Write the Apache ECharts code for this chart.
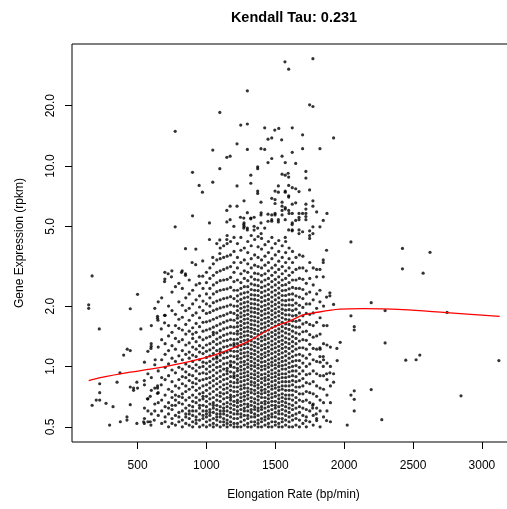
<!DOCTYPE html>
<html>
<head>
<meta charset="utf-8">
<script src="https://cdn.jsdelivr.net/npm/echarts@6/dist/echarts.min.js"></script>
<style>
  html, body { margin: 0; padding: 0; background: #fff; }
  #chart { width: 507px; height: 509px; }
</style>
</head>
<body>
<div id="chart"></div>
<script>
// Elongation rate (bp/min) of each column of genes in the main cloud
const rateColumns = [550, 575, 600, 625, 650, 675, 700, 725, 750, 775, 800,
  825, 850, 875, 900, 925, 950, 975, 1000, 1025, 1050, 1075, 1100, 1125, 1150, 1175, 1200,
  1225, 1250, 1275, 1300, 1325, 1350, 1375, 1400, 1425, 1450, 1475, 1500, 1525, 1550, 1575, 1600, 1625, 1650,
  1675, 1700, 1725, 1750, 1775, 1800, 1825, 1850, 1875, 1900];

// Gene expression (rpkm) of the genes in each column above
const exprColumns = [
  [.55, .62, .81, 1.05],
  [.53, .6, .92, .69],
  [.58, .76, .88, 1.6],
  [.65, .78, 1.02, 1.95, .6],
  [.57, .74, .95, 1.25, .66, 2.1],
  [.52, .6, .68, .88, 1.08, 1.36, 2.2],
  [.53, .56, .63, .72, .86, .99, 1.15, 1.3, 1.8],
  [.5, .58, .66, .77, .9, 1.03, 1.2, 1.42, 1.6, 2.0, .62],
  [.52, .55, .61, .7, .75, .84, .96, 1.1, 1.27, 1.48, 1.9, 2.35, .64],
  [.51, .57, .64, .72, .8, .93, 1.06, 1.22, 1.38, 1.6, 1.82, 2.5, .68],
  [.53, .59, .66, .71, .78, .86, .99, 1.13, 1.33, 1.55, 1.72, 2.1, 2.6, .56],
  [.5, .54, .6, .65, .73, .82, .89, .97, 1.08, 1.2, 1.36, 1.52, 1.76, 2.02, 2.45, .7],
  [.52, .56, .62, .68, .75, .8, .88, .94, 1.03, 1.15, 1.28, 1.45, 1.62, 1.9, 2.2, .58],
  [.51, .55, .58, .64, .7, .77, .85, .91, 1.0, 1.1, 1.18, 1.31, 1.5, 1.7, 1.95, 2.3, 2.7, .6],
  [.5, .53, .57, .63, .67, .72, .79, .83, .9, .98, 1.06, 1.14, 1.25, 1.38, 1.56, 1.8, 2.05, 2.4, .6, 1.45],
  [.52, .56, .6, .66, .7, .76, .82, .87, .95, 1.02, 1.12, 1.22, 1.33, 1.48, 1.64, 1.85, 2.15, 2.55, .54],
  [.5, .54, .58, .62, .68, .73, .78, .85, .92, .99, 1.08, 1.18, 1.27, 1.4, 1.58, 1.75, 1.98, 2.25, 2.6, .64],
  [.51, .55, .6, .64, .69, .74, .8, .86, .93, 1.0, 1.05, 1.16, 1.24, 1.36, 1.5, 1.66, 1.9, 2.12, 2.45, .57, .71],
  [.5, .53, .56, .6, .63, .67, .71, .76, .81, .87, .92, .97, 1.04, 1.11, 1.19, 1.28, 1.39, 1.52, 1.67, 1.84, 2.05, 2.3, 2.62, 2.95, .58],
  [.51, .54, .57, .61, .65, .69, .73, .78, .83, .88, .94, 1.0, 1.06, 1.13, 1.21, 1.3, 1.41, 1.54, 1.69, 1.86, 2.0, 2.2, 2.45, 2.75, 3.1, .59],
  [.5, .52, .55, .59, .62, .66, .7, .75, .8, .85, .9, .96, 1.02, 1.09, 1.16, 1.24, 1.33, 1.44, 1.57, 1.72, 1.9, 2.08, 2.3, 2.55, 2.85, 3.25, .64, 1.48],
  [.51, .54, .58, .61, .64, .68, .72, .77, .82, .87, .93, .99, 1.05, 1.12, 1.2, 1.29, 1.37, 1.47, 1.6, 1.75, 1.93, 2.12, 2.36, 2.62, 2.95, 3.4, .56, 1.1],
  [.5, .53, .56, .6, .63, .67, .71, .74, .79, .84, .89, .95, 1.0, 1.07, 1.14, 1.22, 1.31, 1.4, 1.51, 1.63, 1.78, 1.96, 2.15, 2.4, 2.68, 3.0, 3.45, 3.9, .58, 1.18],
  [.51, .55, .58, .62, .65, .69, .73, .77, .81, .86, .91, .97, 1.03, 1.1, 1.17, 1.25, 1.34, 1.43, 1.54, 1.66, 1.8, 1.98, 2.18, 2.42, 2.7, 3.05, 3.5, 4.0, .53, .6],
  [.5, .52, .54, .57, .6, .63, .66, .7, .74, .78, .82, .87, .92, .98, 1.04, 1.11, 1.18, 1.26, 1.35, 1.45, 1.56, 1.69, 1.83, 2.0, 2.2, 2.44, 2.72, 3.1, 3.55, 4.1, 4.5, .95],
  [.51, .53, .56, .59, .62, .65, .68, .72, .76, .8, .84, .89, .94, 1.0, 1.06, 1.13, 1.2, 1.28, 1.37, 1.47, 1.58, 1.71, 1.86, 2.03, 2.23, 2.48, 2.78, 3.15, 3.6, 4.2, .7, 1.02],
  [.5, .52, .55, .58, .61, .64, .67, .71, .75, .79, .83, .88, .93, .99, 1.05, 1.12, 1.19, 1.27, 1.36, 1.46, 1.57, 1.7, 1.84, 2.0, 2.18, 2.4, 2.65, 2.95, 3.3, 3.75, 4.4, .9, 1.3],
  [.5, .52, .55, .58, .6, .63, .66, .68, .72, .75, .79, .83, .86, .9, .95, .98, 1.03, 1.09, 1.13, 1.19, 1.25, 1.3, 1.37, 1.45, 1.5, 1.58, 1.65, 1.74, 1.8, 1.9, 2.0, 2.12, 2.25, 2.4, 2.7, 3.1, 3.5, 4.1],
  [.5, .53, .56, .58, .61, .64, .67, .7, .73, .77, .8, .84, .88, .92, .96, 1.0, 1.05, 1.1, 1.16, 1.21, 1.27, 1.33, 1.4, 1.46, 1.53, 1.6, 1.68, 1.77, 1.85, 1.95, 2.05, 2.16, 2.3, 2.45, 2.62, 2.9, 3.3, 3.8, 4.4],
  [.51, .54, .57, .6, .62, .65, .68, .71, .74, .78, .81, .85, .89, .93, .97, 1.02, 1.06, 1.12, 1.17, 1.23, 1.29, 1.35, 1.42, 1.49, 1.56, 1.64, 1.72, 1.8, 1.89, 1.98, 2.08, 2.2, 2.33, 2.5, 2.75, 3.0, 3.4, 3.9],
  [.5, .52, .55, .57, .6, .63, .65, .69, .72, .75, .78, .82, .86, .9, .94, .99, 1.03, 1.08, 1.13, 1.18, 1.24, 1.3, 1.36, 1.43, 1.5, 1.57, 1.65, 1.73, 1.82, 1.91, 2.0, 2.1, 2.22, 2.35, 2.5, 2.68, 2.95, 3.25, 3.7, 4.2],
  [.5, .53, .56, .59, .61, .64, .67, .7, .74, .77, .81, .84, .88, .92, .97, 1.01, 1.06, 1.11, 1.16, 1.22, 1.28, 1.34, 1.41, 1.48, 1.55, 1.62, 1.7, 1.78, 1.87, 1.96, 2.06, 2.17, 2.28, 2.42, 2.58, 2.8, 3.1, 3.45, 4.0, 4.5],
  [.51, .53, .56, .58, .61, .63, .66, .69, .73, .76, .8, .83, .87, .91, .95, 1.0, 1.04, 1.09, 1.15, 1.2, 1.26, 1.32, 1.39, 1.46, 1.53, 1.61, 1.69, 1.77, 1.86, 1.95, 2.05, 2.16, 2.27, 2.4, 2.55, 2.72, 2.92, 3.2, 3.6, 4.3],
  [.5, .52, .54, .57, .6, .62, .65, .68, .71, .74, .78, .81, .85, .89, .93, .98, 1.02, 1.07, 1.12, 1.18, 1.24, 1.3, 1.37, 1.44, 1.51, 1.59, 1.67, 1.75, 1.84, 1.93, 2.03, 2.14, 2.26, 2.39, 2.53, 2.7, 2.9, 3.15, 3.5, 3.95, 4.45],
  [.5, .53, .55, .58, .61, .63, .66, .7, .73, .76, .79, .83, .87, .91, .96, 1.0, 1.05, 1.1, 1.15, 1.21, 1.27, 1.34, 1.4, 1.47, 1.55, 1.63, 1.71, 1.8, 1.89, 1.99, 2.1, 2.21, 2.34, 2.48, 2.64, 2.85, 3.1, 3.4, 3.85, 4.35],
  [.51, .54, .56, .59, .62, .65, .67, .7, .74, .77, .81, .85, .88, .92, .97, 1.01, 1.06, 1.12, 1.17, 1.23, 1.29, 1.36, 1.42, 1.5, 1.57, 1.65, 1.74, 1.83, 1.92, 2.02, 2.13, 2.25, 2.38, 2.52, 2.7, 2.9, 3.2, 3.55, 4.05],
  [.5, .52, .55, .57, .6, .63, .66, .69, .72, .75, .79, .82, .86, .9, .94, .99, 1.03, 1.08, 1.14, 1.19, 1.25, 1.31, 1.38, 1.45, 1.52, 1.6, 1.68, 1.76, 1.85, 1.95, 2.05, 2.16, 2.28, 2.42, 2.57, 2.75, 3.0, 3.3, 3.7, 4.2],
  [.5, .53, .56, .58, .61, .64, .67, .7, .73, .77, .8, .84, .88, .92, .96, 1.01, 1.05, 1.1, 1.16, 1.22, 1.28, 1.34, 1.41, 1.48, 1.56, 1.64, 1.72, 1.81, 1.9, 2.0, 2.1, 2.22, 2.35, 2.49, 2.65, 2.85, 3.1, 3.45, 3.9, 4.4],
  [.51, .53, .56, .59, .62, .64, .67, .71, .74, .78, .81, .85, .89, .93, .98, 1.02, 1.07, 1.12, 1.18, 1.24, 1.3, 1.37, 1.44, 1.51, 1.59, 1.67, 1.76, 1.85, 1.94, 2.04, 2.15, 2.27, 2.4, 2.55, 2.72, 2.95, 3.2, 3.6, 4.1],
  [.5, .52, .55, .58, .6, .63, .66, .69, .72, .76, .79, .83, .87, .91, .95, 1.0, 1.04, 1.09, 1.15, 1.2, 1.26, 1.33, 1.4, 1.47, 1.54, 1.62, 1.7, 1.79, 1.88, 1.98, 2.08, 2.2, 2.32, 2.46, 2.62, 2.8, 3.05, 3.35, 3.75, 4.25],
  [.5, .53, .55, .58, .61, .64, .67, .7, .73, .77, .8, .84, .88, .92, .97, 1.01, 1.06, 1.11, 1.17, 1.23, 1.29, 1.35, 1.42, 1.5, 1.58, 1.66, 1.75, 1.84, 1.93, 2.03, 2.14, 2.26, 2.39, 2.54, 2.7, 2.9, 3.15, 3.5, 4.0],
  [.51, .54, .57, .6, .63, .66, .69, .72, .76, .8, .84, .88, .92, .97, 1.02, 1.07, 1.13, 1.19, 1.25, 1.32, 1.39, 1.47, 1.55, 1.63, 1.72, 1.81, 1.91, 2.02, 2.13, 2.26, 2.4, 2.56, 2.75, 3.0, 3.3, 3.7, 4.2],
  [.5, .53, .56, .59, .62, .65, .69, .72, .76, .8, .84, .89, .94, .99, 1.04, 1.1, 1.16, 1.23, 1.3, 1.37, 1.45, 1.53, 1.62, 1.71, 1.81, 1.92, 2.03, 2.15, 2.29, 2.44, 2.62, 2.85, 3.1, 3.45, 3.9],
  [.5, .54, .57, .61, .64, .68, .72, .76, .81, .85, .9, .95, 1.0, 1.06, 1.12, 1.19, 1.26, 1.33, 1.41, 1.5, 1.59, 1.69, 1.79, 1.9, 2.02, 2.15, 2.3, 2.48, 2.7, 2.95, 3.3, 3.75],
  [.51, .55, .58, .62, .66, .7, .75, .79, .84, .89, .95, 1.01, 1.07, 1.14, 1.22, 1.3, 1.38, 1.47, 1.57, 1.68, 1.8, 1.93, 2.07, 2.25, 2.45, 2.7, 3.05, 3.5],
  [.5, .54, .59, .63, .68, .73, .79, .85, .92, .99, 1.07, 1.15, 1.24, 1.34, 1.45, 1.57, 1.7, 1.85, 2.02, 2.22, 2.45, 2.75, 3.1, 3.6],
  [.52, .57, .62, .67, .73, .8, .87, .95, 1.04, 1.13, 1.24, 1.36, 1.49, 1.63, 1.79, 1.97, 2.18, 2.42, 2.72, 3.1, 3.55],
  [.5, .56, .61, .68, .75, .83, .91, 1.0, 1.1, 1.22, 1.35, 1.5, 1.66, 1.84, 2.05, 2.3, 2.6, 3.0],
  [.53, .6, .66, .74, .82, .92, 1.03, 1.15, 1.29, 1.44, 1.62, 1.82, 2.05, 2.35, 2.75, 3.3],
  [.51, .57, .65, .73, .84, .95, 1.08, 1.23, 1.4, 1.6, 1.85, 2.15, 2.55, 3.1],
  [.55, .62, .71, .8, .92, 1.06, 1.22, 1.42, 1.66, 1.95, 2.3, 2.8],
  [.5, .6, .68, .78, .9, 1.05, 1.22, 1.45, 1.75],
  [.56, .66, .77, .9, 1.08, 1.3, 1.6, 2.0],
  [.6, .72, .86, 1.04, 1.28, 1.6],
  [.53, .66, .8, 1.0, 1.25]
];

// Genes outside the regular columns: [rate, expression]
const sparsePoints = [
  [773, 14.9], [1570, 33.1], [1597, 30.4], [1773, 34.3], [1297, 23.7], [1097, 18.5], [1749, 20.2], [1773, 19.8],
  [1249, 16.0], [1297, 16.2], [1423, 15.5], [1496, 15.1], [1525, 15.4], [1623, 15.5], [1698, 14.3], [1923, 13.8],
  [1046, 12.0], [1222, 12.9], [1297, 12.1], [1396, 12.2], [1423, 12.1], [1447, 13.6], [1474, 13.8], [1546, 13.5],
  [1623, 11.7], [1698, 12.2], [1824, 12.2], [1148, 11.05], [1172, 11.2], [1549, 11.2], [1474, 10.9], [1447, 10.4],
  [1572, 10.4], [1648, 10.3], [899, 9.3], [1097, 9.7], [1372, 9.9], [1372, 9.7], [1322, 9.0], [1549, 9.1],
  [1593, 9.2], [1597, 8.8], [1572, 9.0], [1722, 9.4], [1722, 8.7], [947, 8.0], [1046, 8.3], [1222, 7.95],
  [1322, 8.2], [1522, 7.95], [1597, 8.0], [1623, 7.8], [1648, 7.7], [971, 7.4], [1372, 7.5], [1372, 7.3],
  [1498, 7.5], [1522, 7.4], [1572, 7.4], [1572, 7.5], [1672, 7.45], [1749, 7.6], [1597, 7.0], [1597, 7.1],
  [1273, 6.7], [1396, 6.6], [1474, 6.9], [1498, 6.8], [1498, 6.5], [1549, 6.6], [1648, 6.55], [1773, 6.7],
  [1623, 6.45], [1722, 6.45], [1773, 6.3], [1148, 6.0], [1172, 6.3], [1222, 6.3], [1549, 6.3], [1572, 6.2],
  [1549, 6.0], [1597, 6.0], [1722, 6.1], [1572, 6.1], [899, 5.64], [1297, 5.85], [1397, 5.84], [1447, 5.75],
  [1498, 5.8], [1498, 5.7], [1396, 5.7], [1474, 5.7], [1549, 5.7], [1623, 5.8], [1672, 5.8], [1698, 5.8],
  [1722, 5.8], [1800, 5.9], [1875, 5.8], [1600, 5.8], [1322, 5.5], [1346, 5.55], [1247, 5.55], [1271, 5.5],
  [1322, 5.45], [1447, 5.3], [1474, 5.4], [1572, 5.4], [1522, 5.4], [1672, 5.55], [1672, 5.4], [1648, 5.35],
  [1722, 5.6], [1722, 5.4], [1848, 5.35], [1172, 5.4], [1148, 5.26], [1474, 5.3], [1522, 5.26], [1022, 5.2],
  [1396, 5.2], [1273, 5.2], [1271, 5.1], [1623, 5.2], [1622, 5.1], [773, 4.97], [1199, 5.0], [1273, 5.0],
  [1346, 5.0], [1773, 4.97], [1824, 4.97], [1297, 4.9], [1271, 4.9], [1372, 4.9], [1423, 4.9], [1297, 4.8],
  [1346, 4.79], [1597, 4.8], [1623, 4.8], [1622, 4.75], [1672, 4.8], [1698, 4.7], [1749, 4.75], [1397, 4.6],
  [1672, 4.6], [1773, 4.6], [1749, 4.5], [1572, 4.4], [1749, 4.35],
  [1022, 4.3], [1075, 4.1], [1148, 4.3], [1097, 4.28], [848, 3.87], [923, 3.85], [1097, 3.66], [1046, 3.5],
  [896, 3.3], [922, 3.22], [973, 3.36], [698, 2.95], [698, 2.73], [722, 2.9], [746, 2.8], [749, 3.0],
  [824, 3.0], [819, 2.95], [848, 2.9], [848, 2.85], [947, 2.82], [973, 2.82],
  [170, 2.83], [145, 2.03], [145, 1.95], [222, 1.54], [447, 1.94], [500, 2.29], [524, 1.54], [399, 1.14],
  [425, 1.22], [447, 1.2], [372, 0.93], [225, 0.82], [225, 0.74], [200, 0.68], [225, 0.68], [170, 0.64],
  [271, 0.655], [322, 0.63], [297, 0.51], [351, 0.835], [447, 0.79], [471, 0.78], [495, 0.835], [447, 0.645],
  [375, 0.53], [423, 0.56], [423, 0.54], [495, 0.52], [544, 0.53], [592, 0.53], [572, 0.69], [592, 0.71],
  [645, 0.8], [645, 0.78], [645, 0.735], [672, 0.81], [621, 0.54], [575, 1.19], [599, 1.3], [599, 1.26],
  [597, 1.23], [628, 1.08], [549, 0.85], [471, 0.76], [500, 0.78], [549, 0.52], [597, 0.51], [648, 1.7],
  [672, 1.54], [645, 1.74], [645, 1.78], [696, 2.65], [696, 1.8], [696, 1.65],
  [2049, 4.18], [2423, 3.88], [2623, 3.71], [2423, 3.07], [2573, 2.92], [1872, 3.8], [1848, 3.4], [1848, 3.3],
  [1800, 3.05], [1824, 3.05], [1848, 2.8], [1824, 2.4], [1896, 2.33], [1896, 2.25], [1872, 2.22], [1923, 2.04],
  [1824, 2.1], [2196, 2.08], [2049, 1.79], [2297, 1.9], [2747, 1.86], [2073, 1.58], [2073, 1.52], [2297, 1.31],
  [1971, 1.32], [1947, 1.23], [1949, 1.07], [1824, 1.24], [1824, 1.12], [1848, 1.12], [1848, 1.0], [2447, 1.075],
  [2522, 1.08], [2549, 1.14], [3123, 1.07], [1872, 0.92], [1896, 0.93], [1923, 0.92], [1923, 0.835], [2049, 0.72],
  [2073, 0.756], [2073, 0.686], [2196, 0.767], [2073, 0.6], [2848, 0.714], [2022, 0.51], [2273, 0.543], [1872, 0.537],
  [1800, 0.537], [1722, 0.537], [1797, 0.58], [1771, 0.64], [1771, 0.62]
];

// Smoothed trend (loess) of expression against rate
const trendRate = [145, 230, 447, 592, 737, 882, 1050, 1208, 1317, 1447, 1534, 1607, 1693, 1773, 1969, 2136, 2426, 2742, 3129];
const trendExpr = [0.851, 0.88, 0.937, 0.97, 1.01, 1.06, 1.135, 1.249, 1.349, 1.52, 1.62, 1.684, 1.80, 1.847, 1.93, 1.943, 1.92, 1.856, 1.778];

// Axis ticks and ranges
const rateTicks = [500, 1000, 1500, 2000, 2500, 3000];
const exprTicks = [0.5, 1, 2, 5, 10, 20];
const rateRange = [24, 3240];
const exprRange = [0.42, 40.6];

const FONT = '"Liberation Sans", Arial, Helvetica, sans-serif';

const points = [];
rateColumns.forEach((rate, i) => {
  exprColumns[i].forEach(v => points.push([rate, v]));
});
sparsePoints.forEach(p => points.push(p));

const trend = trendRate.map((r, i) => [r, trendExpr[i]]);
const logTicks = exprTicks.map(v => Math.log10(v));

const chart = echarts.init(document.getElementById('chart'), null, { renderer: 'canvas' });
chart.setOption({
  animation: false,
  backgroundColor: '#fff',
  title: {
    text: 'Kendall Tau: 0.231',
    left: 289,
    top: 5,
    textAlign: 'center',
    textStyle: { fontFamily: FONT, fontSize: 14.5, fontWeight: 'bold', color: '#000' }
  },
  // the plotting box runs past the right edge of the page
  grid: {
    left: 72, top: 44, width: 443, height: 398,
    outerBoundsMode: 'none',
    containLabel: false,
    show: true, borderColor: '#000', borderWidth: 1, backgroundColor: 'transparent'
  },
  xAxis: {
    type: 'value',
    min: rateRange[0], max: rateRange[1],
    axisLine: { show: false, onZero: false },
    splitLine: { show: false },
    axisTick: { show: true, length: 7, customValues: rateTicks, lineStyle: { color: '#000', width: 1 } },
    axisLabel: {
      customValues: rateTicks, fontFamily: FONT, fontSize: 12, color: '#000', margin: 18,
      formatter: v => String(v)
    },
    name: 'Elongation Rate (bp/min)',
    nameLocation: 'middle',
    nameGap: 47,
    nameTextStyle: { fontFamily: FONT, fontSize: 12, color: '#000' }
  },
  yAxis: [
    {
      type: 'log',
      min: exprRange[0], max: exprRange[1],
      position: 'left',
      axisLine: { show: false, onZero: false },
      axisTick: { show: false },
      axisLabel: { show: false },
      splitLine: { show: false }
    },
    {
      type: 'value',
      min: Math.log10(exprRange[0]), max: Math.log10(exprRange[1]),
      position: 'left',
      axisLine: { show: false, onZero: false },
      splitLine: { show: false },
      axisTick: { show: true, length: 7, customValues: logTicks, lineStyle: { color: '#000', width: 1 } },
      axisLabel: {
        customValues: logTicks, rotate: 90, margin: 15,
        fontFamily: FONT, fontSize: 12, color: '#000',
        formatter: v => Math.pow(10, v).toFixed(1)
      },
      name: 'Gene Expression (rpkm)',
      nameLocation: 'middle',
      nameGap: 46,
      nameTextStyle: { fontFamily: FONT, fontSize: 12, color: '#000' }
    }
  ],
  series: [
    {
      type: 'scatter',
      xAxisIndex: 0, yAxisIndex: 0,
      data: points,
      symbol: 'circle',
      symbolSize: 3.2,
      itemStyle: { color: '#000' },
      silent: true,
      z: 2
    },
    {
      type: 'line',
      xAxisIndex: 0, yAxisIndex: 0,
      data: trend,
      smooth: 0.35,
      symbol: 'none',
      lineStyle: { color: '#ff0000', width: 1.3 },
      silent: true,
      z: 3
    }
  ]
});
</script>
</body>
</html>
